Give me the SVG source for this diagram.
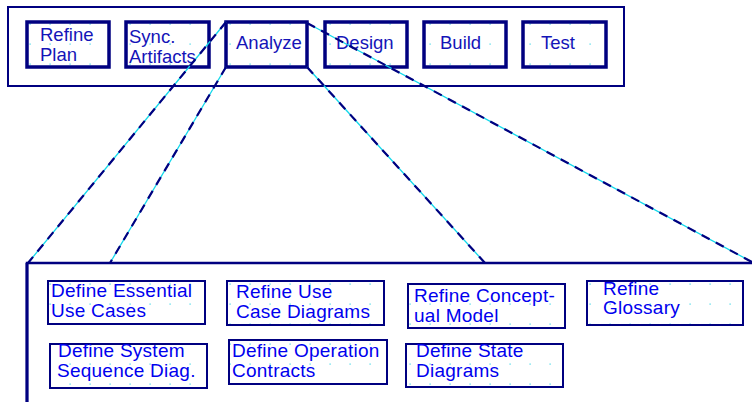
<svg xmlns="http://www.w3.org/2000/svg" width="752" height="402" viewBox="0 0 752 402">
<defs>
<pattern id="dots" patternUnits="userSpaceOnUse" x="0" y="0" width="20" height="20">
<rect x="9.5" y="3.5" width="1.2" height="1.2" fill="#3ad6e6"/>
</pattern>
</defs>
<style>
.frame{fill:none;stroke:#000080;stroke-width:2}
.top{fill:url(#dots);stroke:#000080;stroke-width:3.5}
.sub{fill:url(#dots);stroke:#000080;stroke-width:2}
.t{font-family:"Liberation Sans",Arial,sans-serif;font-size:18.5px;fill:#1414b8}
.s{font-family:"Liberation Sans",Arial,sans-serif;font-size:19px;fill:#0000ee;letter-spacing:0.25px}
.base{stroke:#10d8ea;stroke-width:1.3;fill:none}
.dash{stroke:#000080;stroke-width:2.2;stroke-dasharray:9 7;fill:none}
</style>
<rect width="752" height="402" fill="#fff"/>
<rect class="frame" x="8" y="7" width="616" height="79"/>
<g id="refine-plan"><rect class="top" x="27" y="22" width="82" height="45"/><text class="t" x="40" y="41">Refine</text><text class="t" x="40" y="61">Plan</text></g>
<g id="sync-artifacts"><rect class="top" x="126" y="22" width="83" height="45"/><text class="t" x="129" y="43">Sync.</text><text class="t" x="129" y="63">Artifacts</text></g>
<g id="analyze"><rect class="top" x="226" y="22" width="81" height="45"/><text class="t" x="236" y="49">Analyze</text></g>
<g id="design"><rect class="top" x="325" y="22" width="82" height="45"/><text class="t" x="336" y="49">Design</text></g>
<g id="build"><rect class="top" x="424" y="22" width="82" height="45"/><text class="t" x="440" y="49">Build</text></g>
<g id="test"><rect class="top" x="523" y="22" width="83" height="45"/><text class="t" x="541" y="49">Test</text></g>
<g id="connectors">
<line class="base" x1="226" y1="22" x2="28" y2="263"/>
<line class="dash" x1="226" y1="22" x2="28" y2="263"/>
<line class="base" x1="226" y1="67" x2="110" y2="263"/>
<line class="dash" x1="226" y1="67" x2="110" y2="263"/>
<line class="base" x1="307" y1="67" x2="485" y2="263"/>
<line class="dash" x1="307" y1="67" x2="485" y2="263"/>
<line class="base" x1="307" y1="23" x2="752" y2="262"/>
<line class="dash" x1="307" y1="23" x2="752" y2="262"/>
</g>
<g id="analyze-detail">
<path d="M27,402 V263 H752" fill="none" stroke="#000080" stroke-width="2.5"/>
<line x1="27" y1="263" x2="27" y2="402" stroke="#000080" stroke-width="3"/>
</g>
<g id="define-essential-use-cases"><rect class="sub" x="48" y="281" width="157" height="43"/><text class="s" x="51" y="296.5">Define Essential</text><text class="s" x="51" y="316.5">Use Cases</text></g>
<g id="refine-use-case-diagrams"><rect class="sub" x="227" y="281" width="157" height="44"/><text class="s" x="236" y="298">Refine Use</text><text class="s" x="236" y="318">Case Diagrams</text></g>
<g id="refine-conceptual-model"><rect class="sub" x="408" y="284" width="157" height="44"/><text class="s" x="414" y="302">Refine Concept-</text><text class="s" x="414" y="322">ual Model</text></g>
<g id="refine-glossary"><rect class="sub" x="587" y="281" width="156" height="44"/><text class="s" x="603" y="295">Refine</text><text class="s" x="603" y="314">Glossary</text></g>
<g id="define-system-sequence-diag"><rect class="sub" x="50" y="344" width="157" height="44"/><text class="s" x="58" y="357">Define System</text><text class="s" x="57" y="377">Sequence Diag.</text></g>
<g id="define-operation-contracts"><rect class="sub" x="229" y="340" width="158" height="44"/><text class="s" x="232" y="357">Define Operation</text><text class="s" x="232" y="377">Contracts</text></g>
<g id="define-state-diagrams"><rect class="sub" x="406" y="344" width="157" height="43"/><text class="s" x="416" y="357">Define State</text><text class="s" x="416" y="377">Diagrams</text></g>
</svg>
